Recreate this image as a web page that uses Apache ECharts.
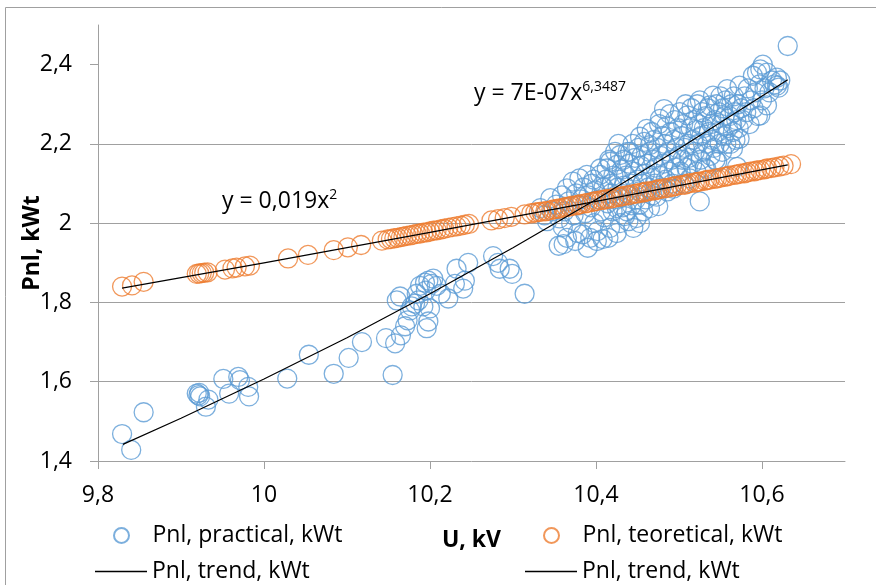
<!DOCTYPE html>
<html>
<head>
<meta charset="utf-8">
<script src="https://cdn.jsdelivr.net/npm/echarts@6/dist/echarts.min.js"></script>
<style>html,body{margin:0;padding:0;background:#fff}#c{width:876px;height:585px}</style>
</head>
<body>
<div id="c"></div>
<script>
// ---- data ----
const xTicks = [9.8, 10, 10.2, 10.4, 10.6];
const yTicks = [1.4, 1.6, 1.8, 2.0, 2.2, 2.4];

const practical = [
 [9.829,1.468],[9.840,1.428],[9.855,1.523],
 [9.919,1.570],[9.921,1.566],[9.923,1.563],[9.922,1.572],[9.933,1.555],[9.930,1.537],
 [9.951,1.607],[9.958,1.570],[9.969,1.612],[9.971,1.604],[9.981,1.587],[9.982,1.563],
 [10.028,1.608],[10.054,1.668],[10.084,1.620],[10.102,1.660],[10.118,1.700],
 [10.147,1.710],[10.155,1.617],[10.158,1.697],[10.165,1.717],[10.170,1.740],[10.173,1.755],
 [10.160,1.805],[10.164,1.815],[10.176,1.780],[10.182,1.797],[10.186,1.805],[10.192,1.790],
 [10.200,1.785],[10.188,1.842],[10.194,1.850],[10.198,1.855],[10.202,1.847],[10.204,1.860],
 [10.208,1.842],[10.195,1.830],[10.184,1.822],[10.198,1.752],[10.196,1.735],[10.178,1.790],
 [10.213,1.822],[10.222,1.810],[10.230,1.847],[10.232,1.885],[10.240,1.835],[10.242,1.855],
 [10.246,1.900],[10.276,1.917],[10.282,1.900],[10.284,1.885],[10.296,1.885],[10.299,1.872],
 [10.314,1.822],
 [10.333,2.038],[10.338,2.020],[10.341,2.005],[10.345,2.063],[10.347,2.030],[10.352,2.047],
 [10.355,1.943],[10.356,2.012],[10.359,2.070],[10.360,1.990],
 [10.361,1.947],[10.362,2.030],[10.365,1.963],[10.365,2.088],[10.367,2.055],[10.370,2.000],
 [10.372,2.105],[10.373,2.020],[10.375,1.955],[10.376,2.075],[10.378,1.975],[10.379,2.045],[10.380,2.113],
 [10.382,2.060],[10.384,1.972],[10.385,2.090],[10.387,2.025],[10.389,2.122],[10.390,1.938],
 [10.391,2.070],[10.393,1.963],[10.394,2.040],[10.395,2.100],[10.397,2.110],[10.398,2.000],[10.399,2.083],
 [10.401,1.955],[10.402,1.980],[10.403,2.060],[10.405,2.122],[10.405,2.138],[10.406,2.030],
 [10.408,1.960],[10.409,2.090],[10.410,2.015],[10.412,2.110],[10.413,2.138],[10.414,2.050],
 [10.415,1.963],[10.416,2.160],[10.417,1.988],[10.417,2.155],[10.418,2.075],[10.419,2.100],[10.420,2.030],
 [10.421,2.120],[10.422,2.060],[10.423,2.180],[10.425,1.975],[10.425,2.038],[10.425,2.147],
 [10.426,2.090],[10.427,2.200],[10.428,2.110],[10.429,2.000],[10.429,2.172],[10.430,2.065],
 [10.431,2.135],[10.432,2.040],[10.433,2.160],[10.434,2.095],[10.435,2.018],[10.436,2.120],
 [10.437,2.030],[10.438,2.180],[10.439,2.005],[10.440,2.070],[10.440,2.150],
 [10.441,2.180],[10.442,2.100],[10.443,2.045],[10.444,2.200],[10.445,1.988],[10.446,2.130],
 [10.447,2.165],[10.448,2.060],[10.449,2.013],[10.450,2.110],[10.451,2.190],[10.452,2.080],
 [10.453,2.000],[10.453,2.047],[10.453,2.218],[10.454,2.145],[10.455,2.170],[10.456,2.100],
 [10.457,2.030],[10.458,2.205],[10.459,2.125],[10.460,2.060],
 [10.461,2.238],[10.462,2.150],[10.463,2.090],[10.464,2.180],[10.465,2.038],[10.465,2.197],
 [10.466,2.120],[10.467,2.230],[10.468,2.070],[10.469,2.160],[10.470,2.210],[10.471,2.100],
 [10.472,2.140],[10.473,2.067],[10.474,2.190],[10.475,2.043],[10.476,2.250],[10.477,2.263],
 [10.477,2.120],[10.478,2.170],[10.479,2.090],[10.480,2.220],
 [10.481,2.150],[10.482,2.288],[10.483,2.200],[10.484,2.110],[10.485,2.245],[10.486,2.080],
 [10.487,2.180],[10.488,2.130],[10.489,2.275],[10.490,2.230],[10.491,2.160],[10.492,2.100],
 [10.493,2.087],[10.494,2.210],[10.495,2.260],[10.496,2.140],[10.497,2.190],[10.498,2.120],
 [10.499,2.240],[10.500,2.170],
 [10.501,2.280],[10.502,2.130],[10.503,2.220],[10.504,2.160],[10.505,2.250],[10.506,2.100],
 [10.507,2.190],[10.508,2.300],[10.509,2.140],[10.510,2.272],[10.511,2.200],[10.512,2.165],
 [10.513,2.113],[10.514,2.240],[10.515,2.290],[10.516,2.150],[10.517,2.210],[10.518,2.260],
 [10.519,2.180],[10.520,2.235],
 [10.521,2.130],[10.522,2.300],[10.523,2.200],[10.524,2.250],[10.525,2.055],[10.525,2.310],
 [10.526,2.160],[10.527,2.220],[10.528,2.280],[10.529,2.180],[10.530,2.240],[10.531,2.140],
 [10.532,2.270],[10.533,2.137],[10.534,2.200],[10.535,2.290],[10.536,2.230],[10.537,2.297],
 [10.538,2.170],[10.539,2.250],[10.540,2.210],
 [10.541,2.322],[10.542,2.190],[10.543,2.260],[10.544,2.160],[10.545,2.300],[10.546,2.155],
 [10.547,2.230],[10.548,2.280],[10.549,2.200],[10.550,2.320],[10.551,2.250],[10.552,2.180],
 [10.553,2.290],[10.554,2.220],[10.555,2.270],[10.556,2.310],[10.557,2.200],[10.558,2.338],[10.559,2.240],
 [10.561,2.270],[10.562,2.200],[10.563,2.300],[10.564,2.250],[10.565,2.188],[10.565,2.230],
 [10.566,2.320],[10.567,2.280],[10.568,2.210],[10.569,2.260],[10.570,2.142],[10.571,2.300],
 [10.572,2.240],[10.573,2.213],[10.573,2.347],[10.575,2.290],[10.577,2.260],[10.579,2.320],
 [10.581,2.280],[10.583,2.340],[10.585,2.250],[10.587,2.310],[10.589,2.372],[10.590,2.290],
 [10.592,2.330],[10.594,2.380],[10.595,2.270],[10.597,2.350],[10.598,2.272],[10.598,2.388],[10.600,2.310],
 [10.601,2.400],[10.603,2.340],[10.606,2.297],[10.606,2.380],[10.609,2.330],[10.612,2.360],
 [10.615,2.350],[10.618,2.347],[10.618,2.367],[10.620,2.342],[10.622,2.360],[10.631,2.447]
];

const theoretical = [
 [9.829,1.840],[9.841,1.843],[9.855,1.852],[9.919,1.872],[9.922,1.873],[9.925,1.874],
 [9.928,1.875],[9.932,1.876],[9.953,1.883],[9.962,1.886],[9.967,1.888],[9.977,1.891],
 [9.983,1.893],[10.029,1.911],[10.053,1.920],[10.084,1.932],[10.101,1.939],[10.117,1.945],
 [10.142,1.956],[10.149,1.959],[10.153,1.960],[10.157,1.962],[10.161,1.963],[10.165,1.965],
 [10.168,1.966],[10.172,1.968],[10.176,1.969],[10.180,1.971],[10.184,1.973],[10.188,1.974],
 [10.192,1.976],[10.196,1.977],[10.200,1.979],[10.204,1.981],[10.208,1.982],[10.213,1.984],
 [10.217,1.986],[10.222,1.988],[10.227,1.990],[10.232,1.992],[10.237,1.994],[10.242,1.996],
 [10.247,1.998],[10.274,2.007],[10.282,2.010],[10.290,2.013],[10.298,2.016],[10.314,2.022],
 [10.322,2.025],[10.327,2.027],[10.331,2.028],[10.334,2.029],[10.339,2.030],[10.341,2.031],
 [10.346,2.033],[10.349,2.035],[10.353,2.036],[10.356,2.037],[10.361,2.039],[10.364,2.041],
 [10.368,2.042],[10.371,2.044],[10.376,2.045],[10.379,2.047],[10.382,2.048],[10.387,2.050],
 [10.390,2.051],[10.395,2.053],[10.398,2.055],[10.401,2.056],[10.406,2.058],[10.410,2.059],
 [10.413,2.061],[10.418,2.062],[10.422,2.064],[10.427,2.066],[10.430,2.067],[10.433,2.069],
 [10.438,2.070],[10.442,2.072],[10.447,2.074],[10.450,2.075],[10.455,2.077],[10.458,2.078],
 [10.461,2.080],[10.466,2.081],[10.471,2.083],[10.474,2.085],[10.477,2.086],[10.482,2.088],
 [10.486,2.089],[10.491,2.091],[10.494,2.093],[10.497,2.094],[10.502,2.096],[10.507,2.097],
 [10.510,2.099],[10.513,2.101],[10.519,2.102],[10.522,2.104],[10.525,2.105],[10.531,2.107],
 [10.534,2.109],[10.537,2.110],[10.543,2.112],[10.546,2.113],[10.550,2.115],[10.555,2.117],
 [10.558,2.118],[10.561,2.120],[10.567,2.122],[10.570,2.123],[10.574,2.125],[10.579,2.126],
 [10.582,2.128],[10.586,2.130],[10.591,2.131],[10.594,2.133],[10.598,2.134],[10.603,2.136],
 [10.606,2.138],[10.611,2.139],[10.615,2.141],[10.621,2.143],[10.626,2.145],[10.635,2.149]
];

const trendPractical = [
 [9.83,1.442],[9.9,1.508],[10.0,1.607],[10.1,1.711],[10.2,1.822],[10.3,1.938],
 [10.4,2.060],[10.5,2.188],[10.631,2.362]
];
const trendTheoretical = [
 [9.829,1.836],[10.0,1.900],[10.2,1.977],[10.4,2.055],[10.631,2.147]
];

const seriesNames = ['Pnl, practical, kWt', 'Pnl, teoretical, kWt', 'Pnl, trend, kWt'];
const eqPower = ['y = 7E-07x', '6,3487'];
const eqSquare = ['y = 0,019x', '2'];

// ---- chart ----
const FONT = 'Open Sans';
const GRAY = '#a0a0a0';
const fmt = v => String(+v.toFixed(2)).replace('.', ',');
const legendText = {fontFamily: FONT, fontSize: 23, color: '#000'};

function legendCircle(name, left, top) {
  return {left: left, top: top, orient: 'horizontal', padding: 0, itemGap: 0,
    itemWidth: 52, itemHeight: 15, selectedMode: false, data: [{name: name, icon: 'circle'}],
    textStyle: legendText};
}
function legendLine(left, top) {
  return {left: left, top: top, orient: 'horizontal', padding: 0, itemGap: 0,
    itemWidth: 52, itemHeight: 1.3, selectedMode: false, data: [{name: seriesNames[2], icon: 'rect'}],
    itemStyle: {color: '#000', borderWidth: 0},
    textStyle: legendText};
}

const chart = echarts.init(document.getElementById('c'), null, {renderer: 'canvas'});
chart.setOption({
  animation: false,
  backgroundColor: '#fff',
  textStyle: {fontFamily: FONT},
  grid: {left: 98, right: 31, top: 25, bottom: 124},
  xAxis: {
    type: 'value', min: 9.8, max: 10.7, interval: 0.2,
    name: 'U, kV', nameLocation: 'middle', nameGap: 68,
    nameTextStyle: {fontFamily: FONT, fontSize: 23, fontWeight: 'bold', color: '#000'},
    axisLine: {show: true, lineStyle: {color: GRAY, width: 1}},
    axisTick: {show: true, length: 8, lineStyle: {color: GRAY}, customValues: xTicks},
    axisLabel: {fontFamily: FONT, fontSize: 23, color: '#000', margin: 23, customValues: xTicks, formatter: fmt},
    splitLine: {show: false}
  },
  yAxis: {
    type: 'value', min: 1.4, max: 2.5, interval: 0.2,
    name: 'Pnl, kWt', nameLocation: 'middle', nameGap: 54, nameMoveOverlap: false,
    nameTextStyle: {fontFamily: FONT, fontSize: 23, fontWeight: 'bold', color: '#000'},
    axisLine: {show: true, lineStyle: {color: GRAY, width: 1}},
    axisTick: {show: true, length: 8, lineStyle: {color: GRAY}, customValues: yTicks},
    axisLabel: {fontFamily: FONT, fontSize: 23, color: '#000', margin: 26, customValues: yTicks, formatter: fmt},
    splitLine: {show: true, showMaxLine: false, showMinLine: false, lineStyle: {color: GRAY, width: 1}}
  },
  legend: [
    legendCircle(seriesNames[0], 113, 524),
    legendCircle(seriesNames[1], 543, 524),
    legendLine(95, 560),
    legendLine(525, 560)
  ],
  series: [
    {name: seriesNames[0], type: 'scatter', data: practical, symbol: 'circle', symbolSize: 19, silent: true,
     itemStyle: {color: 'rgba(0,0,0,0)', borderColor: '#5B9BD5', borderWidth: 1.3}},
    {name: seriesNames[1], type: 'scatter', data: theoretical, symbol: 'circle', symbolSize: 19, silent: true,
     itemStyle: {color: 'rgba(0,0,0,0)', borderColor: '#ED7D31', borderWidth: 1.3}},
    {name: seriesNames[2], type: 'line', data: trendPractical, symbol: 'none', showSymbol: false, silent: true,
     itemStyle: {color: '#000'}, lineStyle: {color: '#000', width: 1.2}, z: 5},
    {name: seriesNames[2], type: 'line', data: trendTheoretical, symbol: 'none', showSymbol: false, silent: true,
     itemStyle: {color: '#000'}, lineStyle: {color: '#000', width: 1.2}, z: 5}
  ],
  graphic: [
    {type: 'rect', silent: true, shape: {x: 5.5, y: 7.5, width: 1000, height: 1000},
     style: {fill: 'none', stroke: GRAY, lineWidth: 1}, z: -1},
    {type: 'text', x: 474, y: 93, silent: true, z: 10,
     style: {text: '{a|' + eqPower[0] + '}{b|' + eqPower[1] + '}', verticalAlign: 'middle',
       rich: {a: {fontFamily: FONT, fontSize: 23, color: '#000', lineHeight: 26},
              b: {fontFamily: FONT, fontSize: 14, color: '#000', lineHeight: 12, verticalAlign: 'top'}}}},
    {type: 'text', x: 222, y: 201, silent: true, z: 10,
     style: {text: '{a|' + eqSquare[0] + '}{b|' + eqSquare[1] + '}', verticalAlign: 'middle',
       rich: {a: {fontFamily: FONT, fontSize: 23, color: '#000', lineHeight: 26},
              b: {fontFamily: FONT, fontSize: 14, color: '#000', lineHeight: 12, verticalAlign: 'top'}}}}
  ]
});
</script>
</body>
</html>
